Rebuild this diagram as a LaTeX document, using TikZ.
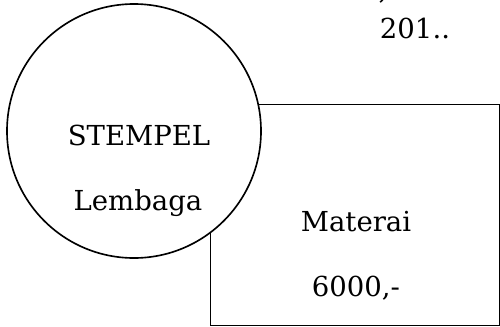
\documentclass[tikz,border=0pt]{standalone}
\usepackage{fontspec}
\setmainfont{DejaVu Serif}
\begin{document}
\begin{tikzpicture}[x=0.03cm,y=-0.03cm,
  txt/.style={font=\fontsize{23.5}{28}\selectfont, inner sep=0pt}]
\useasboundingbox (0,0) rectangle (500,326);
% materai box, behind the stamp
\node[draw, line width=0.8pt, minimum width=8.67cm, minimum height=6.63cm, inner sep=0pt] (materai) at (354.5,214.5) {};
\node[draw, fill=white, circle, line width=1.4pt, minimum size=7.62cm, inner sep=0pt] (stempel) at (134,131) {};
% texts
\node[txt] (stempeltext) at (139,135) {STEMPEL};
\node[txt] (lembaga) at (138,203) {Lembaga};
\node[txt] (materaitext) at (356,222) {Materai};
\node[txt] (nominal) at (356,288) {6000,-};
\node[txt] (tahun) at (415,28) {201..};
\node[txt, anchor=north] (koma) at (383,-4) {,};
\end{tikzpicture}
\end{document}
